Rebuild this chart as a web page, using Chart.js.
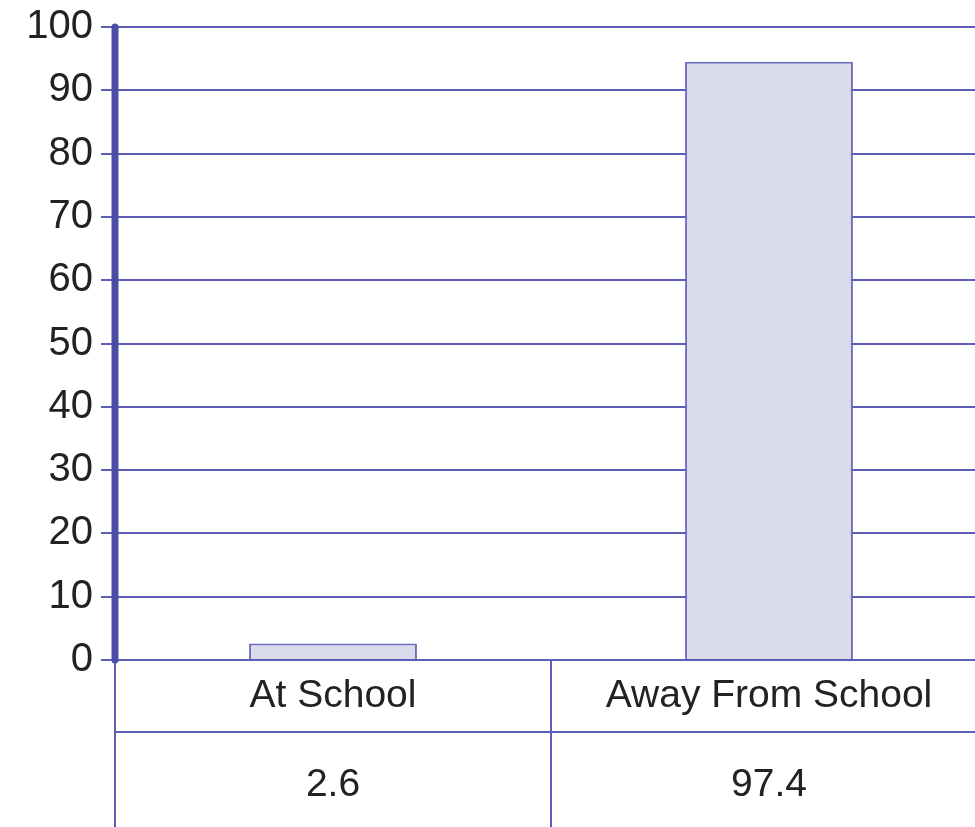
<!DOCTYPE html>
<html>
<head>
<meta charset="utf-8">
<script src="https://cdn.jsdelivr.net/npm/chart.js@4/dist/chart.umd.min.js"></script>
<style>
  html, body { margin: 0; padding: 0; background: #fff; overflow: hidden; }
  #wrap { width: 975px; height: 827px; overflow: hidden; position: relative; }
  #chart { position: absolute; left: 0; top: 0; }
</style>
</head>
<body>
<div id="wrap"><canvas id="chart" width="1000" height="827"></canvas></div>
<script>
// Data
const categories = ['At School', 'Away From School'];
const barHeights = [2.6, 94.5];          // bar tops as drawn in the reference
const tableValues = ['2.6', '97.4'];     // values printed in the data table
const yTicks = [0, 10, 20, 30, 40, 50, 60, 70, 80, 90, 100];

const GRID = '#5d5db8';
const AXIS = '#4a4ea8';
const TEXT = '#222222';
const FONT = '"Liberation Sans", Arial, sans-serif';

// ── Data table under the plot ─────────────────────────────────────────────────
const dataTable = {
  id: 'dataTable',
  afterDraw(chart) {
    const { ctx, chartArea: ca, scales: { x } } = chart;
    const rowY = ca.bottom + 72;
    const bottom = chart.height;
    ctx.save();
    ctx.strokeStyle = GRID;
    ctx.lineWidth = 2;
    ctx.beginPath();
    ctx.moveTo(ca.left, rowY); ctx.lineTo(ca.right, rowY);
    // column borders
    const half = (ca.right - ca.left) / categories.length / 2;
    const edges = [ca.left, ...categories.map((_, i) => x.getPixelForValue(i) + half)];
    for (const e of edges) { ctx.moveTo(e, ca.bottom); ctx.lineTo(e, bottom); }
    ctx.stroke();

    // thick rounded y axis line on top of the grid
    ctx.strokeStyle = AXIS;
    ctx.lineWidth = 7;
    ctx.lineCap = 'round';
    ctx.beginPath();
    ctx.moveTo(ca.left, ca.top); ctx.lineTo(ca.left, ca.bottom);
    ctx.stroke();

    ctx.fillStyle = TEXT;
    ctx.font = `39px ${FONT}`;
    ctx.textAlign = 'center';
    ctx.textBaseline = 'middle';
    categories.forEach((c, i) => {
      const cx = x.getPixelForValue(i);
      ctx.fillText(c, cx, ca.bottom + 36);
      ctx.fillText(tableValues[i], cx, rowY + 53);
    });
    ctx.restore();
  },
};

new Chart(document.getElementById('chart'), {
  type: 'bar',
  data: {
    labels: categories,
    datasets: [{
      data: barHeights,
      backgroundColor: '#dadbea',
      borderColor: '#6c6cc0',
      borderWidth: 2,
      borderSkipped: 'bottom',
      barPercentage: 0.385,
      categoryPercentage: 1,
    }],
  },
  options: {
    responsive: false,
    animation: false,
    devicePixelRatio: 1,
    layout: { padding: { top: 27, right: 13, bottom: 167, left: 0 } },
    plugins: { legend: { display: false }, tooltip: { enabled: false } },
    scales: {
      x: { display: false },
      y: {
        min: 0, max: 100,
        afterBuildTicks: (s) => { s.ticks = yTicks.map((v) => ({ value: v })); },
        afterFit: (s) => { s.width = 115; s.paddingTop = 0; s.paddingBottom = 0; },
        grid: { color: GRID, lineWidth: 2, tickLength: 14, drawTicks: true },
        border: { display: false },
        ticks: { color: TEXT, font: { size: 40, family: FONT }, padding: 8 },
      },
    },
  },
  plugins: [dataTable],
});
</script>
</body>
</html>
